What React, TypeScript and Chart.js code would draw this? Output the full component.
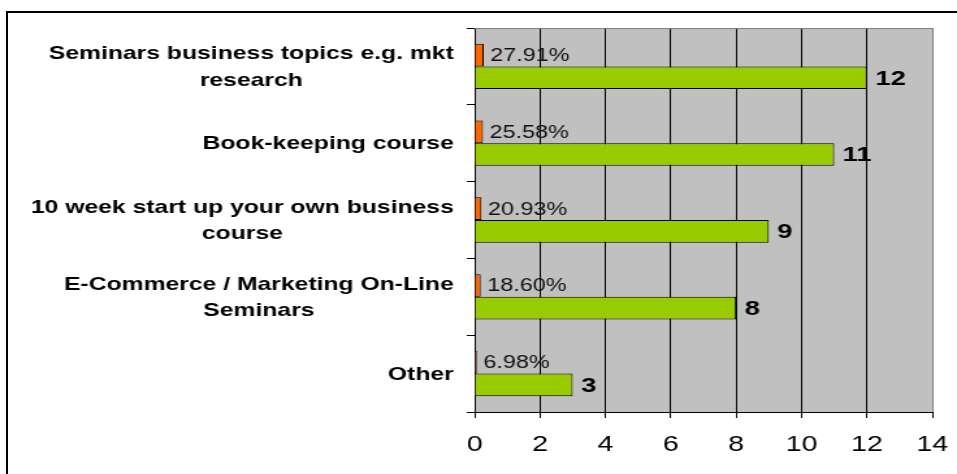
import React, { useEffect, useRef } from "react";
import { Chart, registerables } from "chart.js";

Chart.register(...registerables);

// ---- data ----
const categories: string[][] = [
  ["Seminars business topics e.g. mkt", "research"],
  ["Book-keeping course"],
  ["10 week start up your own business", "course"],
  ["E-Commerce / Marketing On-Line", "Seminars"],
  ["Other"],
];
const shareValues: number[] = [0.2791, 0.2558, 0.2093, 0.186, 0.0698];
const countValues: number[] = [12, 11, 9, 8, 3];
const xTicks: number[] = [0, 2, 4, 6, 8, 10, 12, 14];

// ---- style ----
const LOGICAL_W = 736;
const H = 474;
const STRETCH = 957 / LOGICAL_W;
const FONT = '"Liberation Sans", Arial, Helvetica, sans-serif';

const plotBg = {
  id: "plotBg",
  beforeDraw(chart: any) {
    const { ctx, chartArea: a } = chart;
    ctx.save();
    ctx.fillStyle = "#C0C0C0";
    ctx.fillRect(a.left, a.top, a.right - a.left, a.bottom - a.top);
    ctx.restore();
  },
  beforeDatasetsDraw(chart: any) {
    const { ctx, chartArea: a } = chart;
    ctx.save();
    ctx.strokeStyle = "#808080";
    ctx.lineWidth = 1;
    ctx.beginPath();
    ctx.moveTo(a.left, a.top + 0.5);
    ctx.lineTo(a.right + 0.5, a.top + 0.5);
    ctx.lineTo(a.right + 0.5, a.bottom);
    ctx.stroke();
    ctx.restore();
  },
};

const catLabels = {
  id: "catLabels",
  afterDraw(chart: any) {
    const ctx = chart.ctx;
    const y = chart.scales.y;
    ctx.save();
    ctx.font = `bold 19px ${FONT}`;
    ctx.fillStyle = "#000";
    ctx.textAlign = "center";
    ctx.textBaseline = "middle";
    const right = y.right - 16;
    const lh = 26.5;
    (chart.data.labels as string[][]).forEach((lines, i) => {
      const cy = y.getPixelForValue(i);
      const w = Math.max(...lines.map((l) => ctx.measureText(l).width));
      const cx = right - w / 2;
      const y0 = cy - ((lines.length - 1) * lh) / 2;
      lines.forEach((l, j) => ctx.fillText(l, cx, y0 + j * lh + 1));
    });
    ctx.restore();
  },
};

const valueLabels = {
  id: "valueLabels",
  afterDatasetsDraw(chart: any) {
    const ctx = chart.ctx;
    ctx.save();
    ctx.textAlign = "left";
    ctx.textBaseline = "middle";
    chart.data.datasets.forEach((ds: any, di: number) => {
      const meta = chart.getDatasetMeta(di);
      meta.data.forEach((el: any, i: number) => {
        const v = ds.data[i] as number;
        if (di === 0) {
          ctx.font = `18px ${FONT}`;
          ctx.fillStyle = "#111";
          ctx.fillText((v * 100).toFixed(2) + "%", el.x + 5, el.y + 1);
        } else {
          ctx.font = `bold 21px ${FONT}`;
          ctx.fillStyle = "#000";
          ctx.fillText(String(v), el.x + 6.5, el.y + 1);
        }
      });
    });
    ctx.restore();
  },
};

export default function App() {
  const ref = useRef<HTMLCanvasElement>(null);

  useEffect(() => {
    const chart = new Chart(ref.current as HTMLCanvasElement, {
      type: "bar",
      data: {
        labels: categories as any,
        datasets: [
          {
            label: "Share",
            data: shareValues,
            backgroundColor: "#FF6600",
            borderColor: "#000",
            borderWidth: 1,
          },
          {
            label: "Count",
            data: countValues,
            backgroundColor: "#99CC00",
            borderColor: "#000",
            borderWidth: 1,
          },
        ],
      },
      options: {
        animation: false,
        responsive: false,
        indexAxis: "y",
        datasets: {
          bar: { categoryPercentage: 0.59, barPercentage: 1.0 },
        } as any,
        layout: { padding: { top: 28, right: 19, left: 0, bottom: 0 } },
        plugins: {
          legend: { display: false },
          tooltip: { enabled: false },
        },
        scales: {
          x: {
            type: "linear",
            min: 0,
            max: 14,
            afterBuildTicks: (s: any) => {
              s.ticks = xTicks.map((v) => ({ value: v }));
            },
            ticks: {
              color: "#000",
              font: { size: 22, family: FONT },
              padding: 14,
              maxRotation: 0,
              autoSkip: false,
            },
            grid: {
              color: (c: any) => (c.tick && c.tick.value === 14 ? "#808080" : "#000"),
              tickColor: "#000",
              tickLength: 6,
              lineWidth: 1,
            },
            border: { color: "#000", width: 1 },
            afterFit: (s: any) => {
              s.height = 62;
              s.paddingLeft = 0;
              s.paddingRight = 0;
            },
          } as any,
          y: {
            type: "category",
            offset: true,
            ticks: { display: false },
            grid: {
              offset: true,
              drawOnChartArea: false,
              tickLength: 6,
              color: "#000",
            },
            border: { color: "#000", width: 1 },
            afterFit: (s: any) => {
              s.width = 365;
              s.paddingTop = 0;
              s.paddingBottom = 0;
            },
          } as any,
        },
      },
      plugins: [plotBg, valueLabels, catLabels],
    });
    return () => chart.destroy();
  }, []);

  return (
    <div
      style={{
        position: "fixed",
        left: 0,
        top: 0,
        width: 957,
        height: 474,
        overflow: "hidden",
        background: "#fff",
      }}
    >
      <div
        style={{
          position: "absolute",
          left: 6,
          top: 11,
          width: 1400,
          height: 900,
          borderLeft: "2px solid #000",
          borderTop: "2px solid #000",
        }}
      />
      <div
        style={{
          position: "absolute",
          left: 0,
          top: 0,
          width: LOGICAL_W,
          height: H,
          transform: `scaleX(${STRETCH})`,
          transformOrigin: "0 0",
        }}
      >
        <canvas ref={ref} width={LOGICAL_W} height={H} style={{ display: "block" }} />
      </div>
    </div>
  );
}
